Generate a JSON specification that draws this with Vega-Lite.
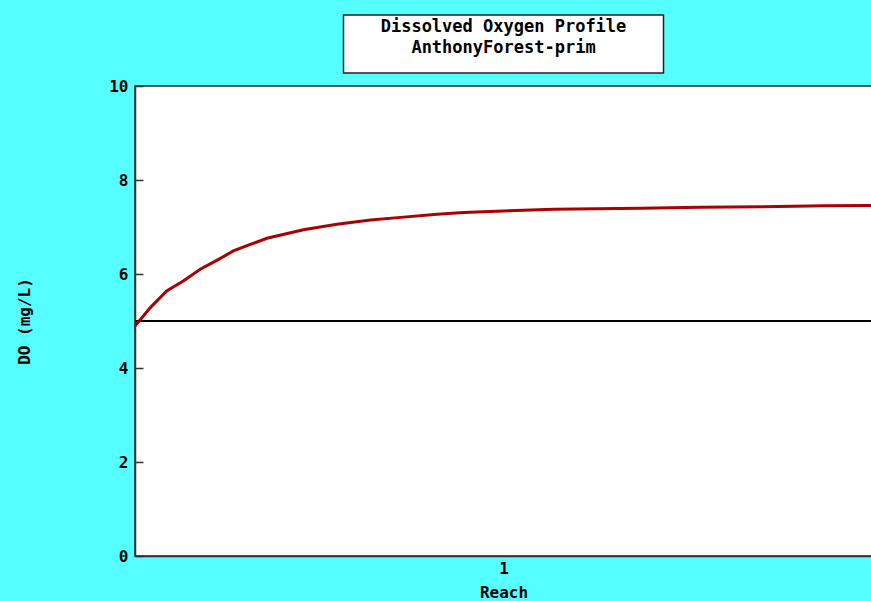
{
  "$schema": "https://vega.github.io/schema/vega-lite/v6.json",
  "background": "#55ffff",
  "padding": {"left": 15, "top": 14, "right": 0, "bottom": 2},
  "datasets": {
    "title": [
      {"line": 1, "text": "Dissolved Oxygen Profile"},
      {"line": 2, "text": "AnthonyForest-prim"}
    ],
    "profile": [
      {"reach": 0.0, "do": 4.89},
      {"reach": 0.041, "do": 5.28},
      {"reach": 0.086, "do": 5.64},
      {"reach": 0.131, "do": 5.85},
      {"reach": 0.177, "do": 6.10},
      {"reach": 0.222, "do": 6.29},
      {"reach": 0.267, "do": 6.49},
      {"reach": 0.313, "do": 6.63},
      {"reach": 0.358, "do": 6.76},
      {"reach": 0.457, "do": 6.94},
      {"reach": 0.548, "do": 7.06},
      {"reach": 0.639, "do": 7.15},
      {"reach": 0.729, "do": 7.21},
      {"reach": 0.82, "do": 7.27},
      {"reach": 0.892, "do": 7.31},
      {"reach": 1.0, "do": 7.34},
      {"reach": 1.136, "do": 7.38},
      {"reach": 1.372, "do": 7.40},
      {"reach": 1.535, "do": 7.42},
      {"reach": 1.698, "do": 7.43},
      {"reach": 1.872, "do": 7.45},
      {"reach": 2.0, "do": 7.46}
    ]
  },
  "spacing": 13,
  "center": true,
  "bounds": "flush",
  "vconcat": [
    {
      "width": 320,
      "height": 58,
      "data": {"name": "title"},
      "mark": {"type": "text", "font": "DejaVu Sans Mono", "fontWeight": "bold", "fontSize": 17, "color": "black", "dy": -6.5},
      "encoding": {
        "y": {"field": "line", "type": "ordinal", "axis": null, "scale": {"type": "point", "padding": 0.9}},
        "text": {"field": "text"}
      }
    },
    {
      "width": 737,
      "height": 470,
      "data": {"name": "profile"},
      "layer": [
        {
          "mark": {"type": "rule", "color": "black", "strokeWidth": 1.2},
          "encoding": {"y": {"datum": 5, "type": "quantitative"}}
        },
        {
          "mark": {"type": "line", "color": "#aa0000", "strokeWidth": 3},
          "encoding": {
            "x": {
              "field": "reach", "type": "quantitative",
              "scale": {"domain": [0, 2], "nice": false, "zero": false},
              "axis": {"title": "Reach", "values": [1], "tickSize": 0, "labelPadding": 4, "titlePadding": 8, "format": "d"}
            },
            "y": {
              "field": "do", "type": "quantitative",
              "scale": {"domain": [0, 10], "nice": false},
              "axis": {"title": "DO (mg/L)", "values": [0, 2, 4, 6, 8, 10], "tickSize": -8, "labelPadding": 15, "titlePadding": 76}
            }
          }
        }
      ]
    }
  ],
  "config": {
    "font": "DejaVu Sans Mono",
    "view": {"fill": "white", "stroke": "#222222", "strokeWidth": 1.5},
    "axis": {
      "grid": false,
      "domainColor": "#333333",
      "domainWidth": 1.5,
      "tickColor": "#333333",
      "tickWidth": 1.5,
      "labelFont": "DejaVu Sans Mono",
      "labelFontWeight": "bold",
      "labelFontSize": 16,
      "labelColor": "black",
      "titleFont": "DejaVu Sans Mono",
      "titleFontWeight": "bold",
      "titleFontSize": 16,
      "titleColor": "black"
    }
  }
}
